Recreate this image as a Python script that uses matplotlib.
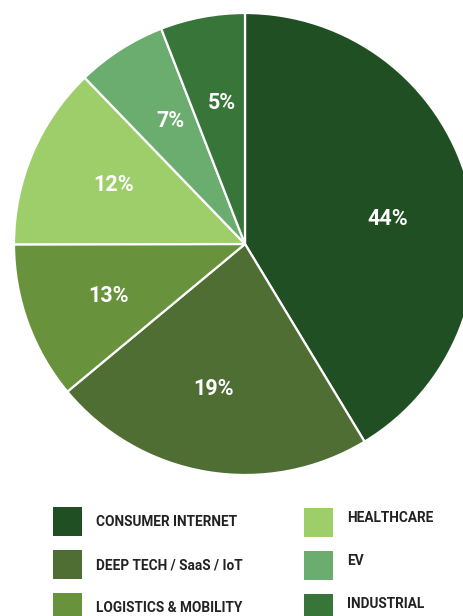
import numpy as np
import matplotlib.pyplot as plt
from matplotlib.patches import Rectangle

# sector names, shares (as drawn) and the printed labels
sectors = ['CONSUMER INTERNET', 'DEEP TECH / SaaS / IoT', 'LOGISTICS & MOBILITY',
           'HEALTHCARE', 'EV', 'INDUSTRIAL']
shares = [41.3, 22.6, 11.0, 12.8, 6.3, 5.9]
pct_labels = ['44%', '19%', '13%', '12%', '7%', '5%']
colors = ['#214f24', '#4f6e34', '#68923c', '#9dce69', '#6bad6f', '#377539']

W, H = 464, 616
plt.rcParams['font.family'] = ['Roboto', 'DejaVu Sans']

fig = plt.figure(figsize=(W / 100, H / 100), dpi=100)

# pie axes: centre (245, 244) px, radius 231 px
ax = fig.add_axes([14 / W, 1 - 475 / H, 462 / W, 462 / H])
ax.pie(shares, colors=colors, startangle=90, counterclock=False, radius=1,
       wedgeprops=dict(edgecolor='white', linewidth=1.6))

# percentage labels placed at the middle of their stated share
pcts = np.array([float(p.strip('%')) for p in pct_labels])
mids = 90 - 3.6 * (np.cumsum(pcts) - pcts / 2)
for lab, a in zip(pct_labels, np.radians(mids)):
    ax.text(0.63 * np.cos(a), 0.63 * np.sin(a), lab, color='white', fontsize=15.5,
            fontweight='bold', ha='center', va='center_baseline')
ax.set_xlim(-1, 1)
ax.set_ylim(-1, 1)
ax.set_aspect('equal')
ax.axis('off')

# legend, two columns of three
def px(x, y):
    return x / W, 1 - y / H

for i, (name, col) in enumerate(zip(sectors, colors)):
    c, r = divmod(i, 3)
    sx = 53 if c == 0 else 304
    sy = 507 + 43 * r + (1 if c else 0)
    x0, y0 = px(sx, sy + 29)
    fig.add_artist(Rectangle((x0, y0), 29 / W, 29 / H, transform=fig.transFigure,
                             facecolor=col, edgecolor='none'))
    tx = 96 if c == 0 else 347
    ty = (522 if c == 0 else 518) + 43 * r
    fig.text(*px(tx, ty), name, fontsize=9.8, fontweight='bold', color='#222222',
             va='center', ha='left')

fig.savefig('out.png', dpi=100)
